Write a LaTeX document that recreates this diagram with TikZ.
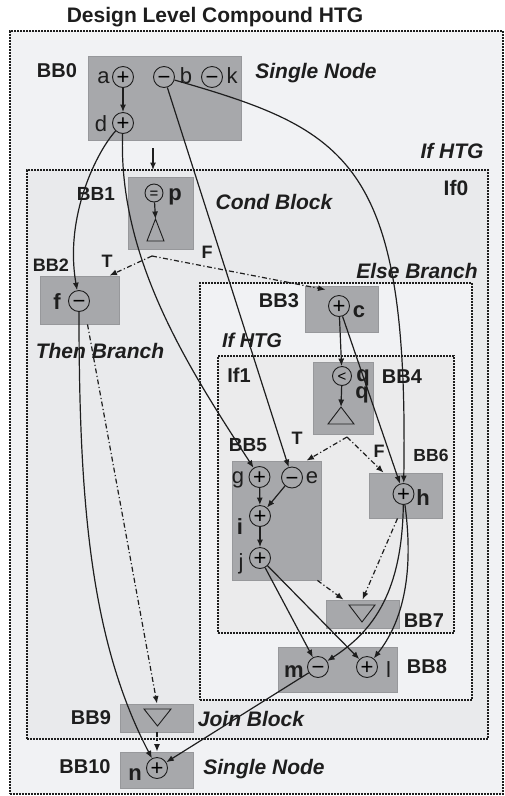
\documentclass[tikz,border=0pt]{standalone}
\usepackage{fontspec}
\setmainfont{Liberation Sans}
\usetikzlibrary{arrows.meta,calc}
\newcommand\fsz[1]{\fontsize{#1}{#1}\selectfont}
\definecolor{bgout}{HTML}{F1F2F4}
\definecolor{bgif}{HTML}{E9EAEC}
\definecolor{bgelse}{HTML}{F1F2F4}
\definecolor{bgifone}{HTML}{EBEBEC}
\definecolor{bbfill}{HTML}{A7A8AB}
\definecolor{bbline}{HTML}{97989B}
\definecolor{ink}{HTML}{1E1E1E}
\begin{document}
\begin{tikzpicture}[x=1pt,y=-1pt,
  region/.style={draw=ink, line width=1.7pt, dash pattern=on 1.7pt off 1.3pt, inner sep=0, outer sep=0},
  bbbox/.style={fill=bbfill, draw=bbline, line width=0.8pt, inner sep=0},
  op/.style={circle, draw=ink, line width=0.9pt, minimum size=21pt, inner sep=0, font={\fsz{22}}, text height=15.5pt, text depth=0pt},
  sop/.style={circle, draw=ink, line width=0.9pt, minimum size=18pt, inner sep=0, font={\fsz{15}}, text height=10.6pt, text depth=0pt},
  dep/.style={draw=ink, line width=1.2pt, -{Latex[length=7.5pt,width=6pt]}},
  ctl/.style={draw=ink, line width=1.2pt, dash pattern=on 5pt off 2.5pt on 1.2pt off 2.5pt, -{Latex[length=7.5pt,width=6pt]}},
  tri/.style={draw=ink, line width=0.9pt, line join=miter},
  bblab/.style={font={\fsz{20}\bfseries}, text=ink, inner sep=0, anchor=base},
  sbblab/.style={font={\fsz{18}\bfseries}, text=ink, inner sep=0, anchor=base},
  ann/.style={font={\fsz{21}\bfseries\itshape}, text=ink, inner sep=0, anchor=base},
  let/.style={font={\fsz{22}}, text=ink, inner sep=0, anchor=base},
  blet/.style={font={\fsz{22}\bfseries}, text=ink, inner sep=0, anchor=base}
]
\useasboundingbox (0,0) rectangle (505,796);
\fill[white] (0,0) rectangle (505,796);

% title
\node[font={\fsz{21}\bfseries}, text=ink, anchor=base, inner sep=0] (title) at (215,22) {Design Level Compound HTG};

% regions
\node[region, fill=bgout, minimum width=493pt, minimum height=763pt] (outer) at (256.5,412.5) {};
\node[region, fill=bgif, minimum width=461pt, minimum height=569pt] (If0) at (257.5,454.5) {};
\node[region, fill=bgelse, minimum width=272pt, minimum height=417pt] (else) at (336,491.5) {};
\node[region, fill=bgifone, minimum width=236pt, minimum height=277pt] (If1) at (336,494.5) {};

% basic blocks
\node[bbbox, minimum width=153pt, minimum height=84pt] (BB0) at (164.5,98) {};
\node[bbbox, minimum width=65pt, minimum height=72pt] (BB1) at (160.5,213) {};
\node[bbbox, minimum width=79pt, minimum height=48pt] (BB2) at (79.5,300) {};
\node[bbbox, minimum width=73pt, minimum height=46pt] (BB3) at (341.5,309) {};
\node[bbbox, minimum width=60pt, minimum height=72pt] (BB4) at (343,398) {};
\node[bbbox, minimum width=89pt, minimum height=119pt] (BB5) at (276.5,520.5) {};
\node[bbbox, minimum width=73pt, minimum height=45pt] (BB6) at (405.5,495.5) {};
\node[bbbox, minimum width=73pt, minimum height=28pt] (BB7) at (362.5,614) {};
\node[bbbox, minimum width=119pt, minimum height=45pt] (BB8) at (337.5,669.5) {};
\node[bbbox, minimum width=73pt, minimum height=28pt] (BB9) at (157,718) {};
\node[bbbox, minimum width=73pt, minimum height=36pt] (BB10) at (157,770) {};

% labels
\node[bblab] (lBB0) at (57,77) {BB0};
\node[sbblab, font={\fsz{19}\bfseries}] (lBB1) at (96,200) {BB1};
\node[sbblab] (lBB2) at (51,271) {BB2};
\node[bblab] (lBB3) at (279,307) {BB3};
\node[bblab] (lBB4) at (402,383) {BB4};
\node[sbblab, font={\fsz{19}\bfseries}] (lBB5) at (248,451) {BB5};
\node[sbblab, font={\fsz{17.5}\bfseries}] (lBB6) at (431,461) {BB6};
\node[bblab] (lBB7) at (424,627) {BB7};
\node[bblab] (lBB8) at (427,673) {BB8};
\node[bblab] (lBB9) at (91,724) {BB9};
\node[bblab] (lBB10) at (85,773) {BB10};
\node[sbblab] (lT1) at (107,267) {T};
\node[sbblab] (lF1) at (207,258) {F};
\node[sbblab] (lT4) at (297,444) {T};
\node[sbblab] (lF4) at (379,457) {F};
\node[bblab, font={\fsz{21}\bfseries}] (lIf0) at (456,195) {If0};
\node[bblab] (lIf1) at (239,382) {If1};
\node[ann] (aIf0) at (452,158) {If HTG};
\node[ann, font={\fsz{20}\bfseries\itshape}] (aIf1) at (252,347) {If HTG};
\node[ann] (aS0) at (316,78) {Single Node};
\node[ann] (aCond) at (274,209) {Cond Block};
\node[ann] (aElse) at (417,278) {Else Branch};
\node[ann] (aThen) at (100,358) {Then Branch};
\node[ann] (aJoin) at (251,726) {Join Block};
\node[ann] (aS10) at (264,774) {Single Node};

% operation nodes
\node[op] (a) at (123,77) {+};
\node[op] (b) at (164,77) {−};
\node[op] (k) at (212,77) {−};
\node[op] (d) at (123,123) {+};
\node[sop] (p) at (154,193) {=};
\node[op] (f) at (79,301) {−};
\node[op] (c) at (339,306) {+};
\node[sop, minimum size=19pt] (q) at (342,376) {<};
\node[op] (g) at (259.5,477) {+};
\node[op] (e) at (292,477.5) {−};
\node[op] (i) at (260,516) {+};
\node[op] (j) at (260,558) {+};
\node[op] (h) at (403.5,494) {+};
\node[op] (m) at (318,667) {−};
\node[op] (l) at (367,667) {+};
\node[op] (n) at (157,768) {+};

% operation names
\node[let] (ta) at (103.5,83) {a};
\node[let] (tb) at (186,83) {b};
\node[let] (tk) at (232,83) {k};
\node[let] (td) at (101,131) {d};
\node[blet] (tp) at (175,200) {p};
\node[blet] (tf) at (57,309) {f};
\node[blet] (tc) at (359,317) {c};
\node[blet] (tq1) at (363,381) {q};
\node[blet] (tq2) at (362,398) {q};
\node[let] (tg) at (238,483) {g};
\node[let] (te) at (312,483) {e};
\node[blet] (ti) at (240,534) {i};
\node[let] (tj) at (241,569) {j};
\node[blet] (th) at (423,505) {h};
\node[blet] (tm) at (294,677) {m};
\node[let] (tl) at (388.5,677) {l};
\node[blet] (tn) at (135,780) {n};

% triangles (condition / join markers)
\coordinate (tpA) at (155.5,219);
\draw[tri] (147,241) -- (tpA) -- (164,241) -- cycle;
\coordinate (tqA) at (341,407);
\draw[tri] (328,424) -- (tqA) -- (354,424) -- cycle;
\draw[tri] (349,605) -- (375,605) -- (362,622) -- cycle;
\draw[tri] (144,709) -- (171,709) -- (157.5,726) -- cycle;

% data dependences
\draw[dep] (a) -- (d);
\draw[dep] (p) -- (tpA);
\draw[dep] (q) -- (tqA);
\coordinate (s0) at (153,148);
\draw[dep] (s0) -- (s0 |- If0.north);
\draw[dep] (d) .. controls (98,150) and (64,215) .. (f);
\draw[dep] (d) .. controls (118,260) and (190,370) .. (g);
\draw[dep] (b) -- (e);
\draw[dep] (b) .. controls (348,130) and (409,160) .. (h);
\draw[dep] (c) -- (q);
\draw[dep] (c) -- (h);
\draw[dep] (g) -- (i);
\draw[dep] (e) -- (i);
\draw[dep] (i) -- (j);
\draw[dep] (j) -- (m);
\draw[dep] (j) -- (l);
\draw[dep] (h) .. controls (402,590) and (375,630) .. (m);
\draw[dep] (h) .. controls (415,580) and (400,625) .. (l);
\draw[dep] (f) .. controls (79,500) and (90,640) .. (n);
\draw[dep] (m) -- (n);

% control flow
\coordinate (c1) at (152,256);
\draw[ctl] (c1) -- ([xshift=30pt]BB2.north);
\draw[ctl] (c1) -- ([xshift=-16pt,yshift=-4pt]BB3.north);
\coordinate (c4) at (347,437);
\draw[ctl] (c4) -- ([xshift=30pt]BB5.north);
\draw[ctl] (c4) -- ([xshift=-22pt]BB6.north);
\draw[ctl] ([xshift=-4pt]BB5.south east) -- ([xshift=-19pt]BB7.north);
\draw[ctl] ([xshift=-8pt]BB6.south) -- (BB7.north);
\draw[ctl] ([xshift=8pt]BB2.south) -- (BB9.north);
\draw[ctl] (BB9.south) -- (BB10.north);
\end{tikzpicture}
\end{document}
